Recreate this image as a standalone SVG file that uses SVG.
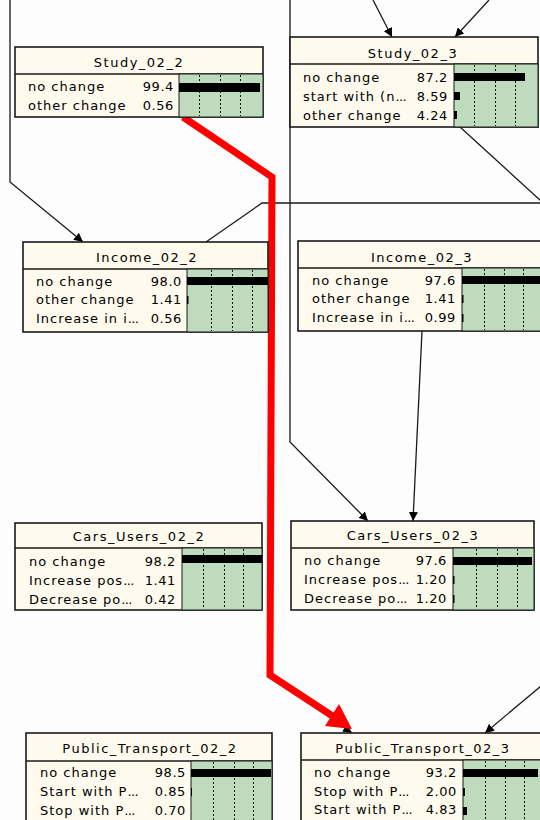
<svg xmlns="http://www.w3.org/2000/svg" width="540" height="820" viewBox="0 0 540 820">
  <style>
    .bg { fill: #fdfdfd; }
    .frame { fill: #fefbee; stroke: #1a1a1a; stroke-width: 1.6; }
    .sep { stroke: #1a1a1a; stroke-width: 1.3; fill: none; }
    .belief { fill: #bedbbe; stroke: #1a1a1a; stroke-width: 1; }
    .grid { stroke: #111; stroke-width: 1; stroke-dasharray: 2 2; }
    .bar { fill: #000; }
    .title { font-family: "DejaVu Sans", sans-serif; font-size: 13px; letter-spacing: 1.5px; fill: #000; text-anchor: middle; }
    .state { font-family: "DejaVu Sans", sans-serif; font-size: 13px; letter-spacing: 1px; fill: #000; }
    .val { font-family: "DejaVu Sans", sans-serif; font-size: 13px; letter-spacing: 0.6px; fill: #000; text-anchor: end; }
    .dots { letter-spacing: -0.6px; }
    .link { fill: none; stroke: #1a1a1a; stroke-width: 1.3; }
    .hot { fill: none; stroke: #ff0000; stroke-width: 7; stroke-linejoin: miter; }
  </style>
  <defs>
    <marker id="tip" viewBox="0 0 10 10" refX="10" refY="5" markerWidth="9" markerHeight="9" markerUnits="userSpaceOnUse" orient="auto">
      <path d="M0,0 L10,5 L0,10 Z" fill="#000"/>
    </marker>
  </defs>

  <rect class="bg" x="0" y="0" width="540" height="820"/>

  <!-- connectors -->
  <g id="links">
    <path class="link" d="M10,0 L10,182 L83,242" marker-end="url(#tip)"/>
    <path class="link" d="M373,0 L392,37" marker-end="url(#tip)"/>
    <path class="link" d="M489,0 L455,37" marker-end="url(#tip)"/>
    <path class="link" d="M460,127 L541,201"/>
    <path class="link" d="M541,203 L262,203 L206,242"/>
    <path class="link" d="M290,0 L290,442 L368,521" marker-end="url(#tip)"/>
    <path class="link" d="M422,331 L413,521" marker-end="url(#tip)"/>
    <path class="link" d="M541,686 L485,733" marker-end="url(#tip)"/>
    <path class="link" d="M183,117 L272,177 L270,675 L352,733" marker-end="url(#tip)"/>
    <!-- highlighted path -->
    <path class="hot" d="M183,117 L272,177 L270,675 L334,717"/>
    <polygon points="352,729 325,726 339,704" fill="#ff0000"/>
  </g>

  <!-- Study_02_2 -->
  <g id="study_02_2">
    <rect class="frame" x="15" y="47" width="248" height="70"/>
    <line class="sep" x1="15" y1="74" x2="263" y2="74"/>
    <rect class="belief" x="179" y="74" width="84" height="43"/>
    <line class="grid" x1="199.5" y1="75" x2="199.5" y2="116"/>
    <line class="grid" x1="220.5" y1="75" x2="220.5" y2="116"/>
    <line class="grid" x1="240.5" y1="75" x2="240.5" y2="116"/>
    <rect class="bar" x="179" y="83" width="81" height="9"/>
    <text class="title" x="139" y="67">Study_02_2</text>
    <text class="state" x="28" y="91">no change</text>
    <text class="val" x="174" y="91">99.4</text>
    <text class="state" x="28" y="110">other change</text>
    <text class="val" x="174" y="110">0.56</text>
  </g>

  <!-- Study_02_3 -->
  <g id="study_02_3">
    <rect class="frame" x="290" y="37" width="248" height="90"/>
    <line class="sep" x1="290" y1="64" x2="538" y2="64"/>
    <rect class="belief" x="454" y="64" width="84" height="63"/>
    <line class="grid" x1="474.5" y1="65" x2="474.5" y2="126"/>
    <line class="grid" x1="495.5" y1="65" x2="495.5" y2="126"/>
    <line class="grid" x1="515.5" y1="65" x2="515.5" y2="126"/>
    <rect class="bar" x="454" y="73" width="71" height="8"/>
    <rect class="bar" x="454" y="92" width="6" height="8"/>
    <rect class="bar" x="454" y="111" width="3" height="8"/>
    <text class="title" x="413" y="58">Study_02_3</text>
    <text class="state" x="303" y="82">no change</text>
    <text class="val" x="448" y="82">87.2</text>
    <text class="state" x="303" y="101">start with (n<tspan class="dots">...</tspan></text>
    <text class="val" x="448" y="101">8.59</text>
    <text class="state" x="303" y="120">other change</text>
    <text class="val" x="448" y="120">4.24</text>
  </g>

  <!-- Income_02_2 -->
  <g id="income_02_2">
    <rect class="frame" x="23" y="242" width="245" height="90"/>
    <line class="sep" x1="23" y1="269" x2="268" y2="269"/>
    <rect class="belief" x="187" y="269" width="81" height="63"/>
    <line class="grid" x1="211.5" y1="270" x2="211.5" y2="331"/>
    <line class="grid" x1="232.5" y1="270" x2="232.5" y2="331"/>
    <line class="grid" x1="252.5" y1="270" x2="252.5" y2="331"/>
    <rect class="bar" x="187" y="277" width="81" height="8"/>
    <rect class="bar" x="187" y="296" width="1.5" height="8"/>
    <text class="title" x="147" y="262">Income_02_2</text>
    <text class="state" x="36" y="286">no change</text>
    <text class="val" x="182" y="286">98.0</text>
    <text class="state" x="36" y="304">other change</text>
    <text class="val" x="182" y="304">1.41</text>
    <text class="state" x="36" y="323">Increase in i<tspan class="dots">...</tspan></text>
    <text class="val" x="182" y="323">0.56</text>
  </g>

  <!-- Income_02_3 -->
  <g id="income_02_3">
    <rect class="frame" x="298" y="241" width="248" height="90"/>
    <line class="sep" x1="298" y1="268" x2="546" y2="268"/>
    <rect class="belief" x="462" y="268" width="84" height="63"/>
    <line class="grid" x1="484.5" y1="269" x2="484.5" y2="330"/>
    <line class="grid" x1="504.5" y1="269" x2="504.5" y2="330"/>
    <line class="grid" x1="523.5" y1="269" x2="523.5" y2="330"/>
    <rect class="bar" x="462" y="276" width="79" height="8"/>
    <rect class="bar" x="462" y="295" width="1.5" height="8"/>
    <rect class="bar" x="462" y="314" width="1.5" height="8"/>
    <text class="title" x="422" y="262">Income_02_3</text>
    <text class="state" x="312" y="285">no change</text>
    <text class="val" x="456" y="285">97.6</text>
    <text class="state" x="312" y="303">other change</text>
    <text class="val" x="456" y="303">1.41</text>
    <text class="state" x="312" y="322">Increase in i<tspan class="dots">...</tspan></text>
    <text class="val" x="456" y="322">0.99</text>
  </g>

  <!-- Cars_Users_02_2 -->
  <g id="cars_users_02_2">
    <rect class="frame" x="15" y="523" width="247" height="87"/>
    <line class="sep" x1="15" y1="548" x2="262" y2="548"/>
    <rect class="belief" x="182" y="548" width="80" height="62"/>
    <line class="grid" x1="203.5" y1="549" x2="203.5" y2="609"/>
    <line class="grid" x1="224.5" y1="549" x2="224.5" y2="609"/>
    <line class="grid" x1="243.5" y1="549" x2="243.5" y2="609"/>
    <rect class="bar" x="182" y="555" width="80" height="8"/>
    <text class="title" x="139" y="541">Cars_Users_02_2</text>
    <text class="state" x="29" y="566">no change</text>
    <text class="val" x="176" y="566">98.2</text>
    <text class="state" x="29" y="585">Increase pos<tspan class="dots">...</tspan></text>
    <text class="val" x="176" y="585">1.41</text>
    <text class="state" x="29" y="604">Decrease po<tspan class="dots">...</tspan></text>
    <text class="val" x="176" y="604">0.42</text>
  </g>

  <!-- Cars_Users_02_3 -->
  <g id="cars_users_02_3">
    <rect class="frame" x="291" y="521" width="243" height="89"/>
    <line class="sep" x1="291" y1="548" x2="534" y2="548"/>
    <rect class="belief" x="453" y="548" width="81" height="62"/>
    <line class="grid" x1="476.5" y1="549" x2="476.5" y2="609"/>
    <line class="grid" x1="497.5" y1="549" x2="497.5" y2="609"/>
    <line class="grid" x1="517.5" y1="549" x2="517.5" y2="609"/>
    <rect class="bar" x="453" y="557" width="79" height="8"/>
    <rect class="bar" x="453" y="576" width="1.5" height="8"/>
    <rect class="bar" x="453" y="595" width="1.5" height="8"/>
    <text class="title" x="413" y="540">Cars_Users_02_3</text>
    <text class="state" x="304" y="565">no change</text>
    <text class="val" x="447" y="565">97.6</text>
    <text class="state" x="304" y="584">Increase pos<tspan class="dots">...</tspan></text>
    <text class="val" x="447" y="584">1.20</text>
    <text class="state" x="304" y="603">Decrease po<tspan class="dots">...</tspan></text>
    <text class="val" x="447" y="603">1.20</text>
  </g>

  <!-- Public_Transport_02_2 -->
  <g id="public_transport_02_2">
    <rect class="frame" x="26" y="733" width="246" height="100"/>
    <line class="sep" x1="26" y1="761" x2="272" y2="761"/>
    <rect class="belief" x="191" y="761" width="81" height="72"/>
    <line class="grid" x1="213.5" y1="762" x2="213.5" y2="820"/>
    <line class="grid" x1="234.5" y1="762" x2="234.5" y2="820"/>
    <line class="grid" x1="253.5" y1="762" x2="253.5" y2="820"/>
    <rect class="bar" x="191" y="769" width="80" height="8"/>
    <rect class="bar" x="191" y="788" width="1" height="8"/>
    <text class="title" x="150" y="753">Public_Transport_02_2</text>
    <text class="state" x="40" y="777">no change</text>
    <text class="val" x="186" y="777">98.5</text>
    <text class="state" x="40" y="796">Start with P<tspan class="dots">...</tspan></text>
    <text class="val" x="186" y="796">0.85</text>
    <text class="state" x="40" y="815">Stop with P<tspan class="dots">...</tspan></text>
    <text class="val" x="186" y="815">0.70</text>
  </g>

  <!-- Public_Transport_02_3 -->
  <g id="public_transport_02_3">
    <rect class="frame" x="301" y="733" width="245" height="100"/>
    <line class="sep" x1="301" y1="760" x2="546" y2="760"/>
    <rect class="belief" x="463" y="760" width="83" height="73"/>
    <line class="grid" x1="485.5" y1="761" x2="485.5" y2="820"/>
    <line class="grid" x1="505.5" y1="761" x2="505.5" y2="820"/>
    <line class="grid" x1="524.5" y1="761" x2="524.5" y2="820"/>
    <rect class="bar" x="463" y="769" width="75" height="8"/>
    <rect class="bar" x="463" y="788" width="2" height="8"/>
    <rect class="bar" x="463" y="807" width="4" height="8"/>
    <text class="title" x="423" y="753">Public_Transport_02_3</text>
    <text class="state" x="314" y="777">no change</text>
    <text class="val" x="457" y="777">93.2</text>
    <text class="state" x="314" y="796">Stop with P<tspan class="dots">...</tspan></text>
    <text class="val" x="457" y="796">2.00</text>
    <text class="state" x="314" y="814">Start with P<tspan class="dots">...</tspan></text>
    <text class="val" x="457" y="814">4.83</text>
  </g>
</svg>
